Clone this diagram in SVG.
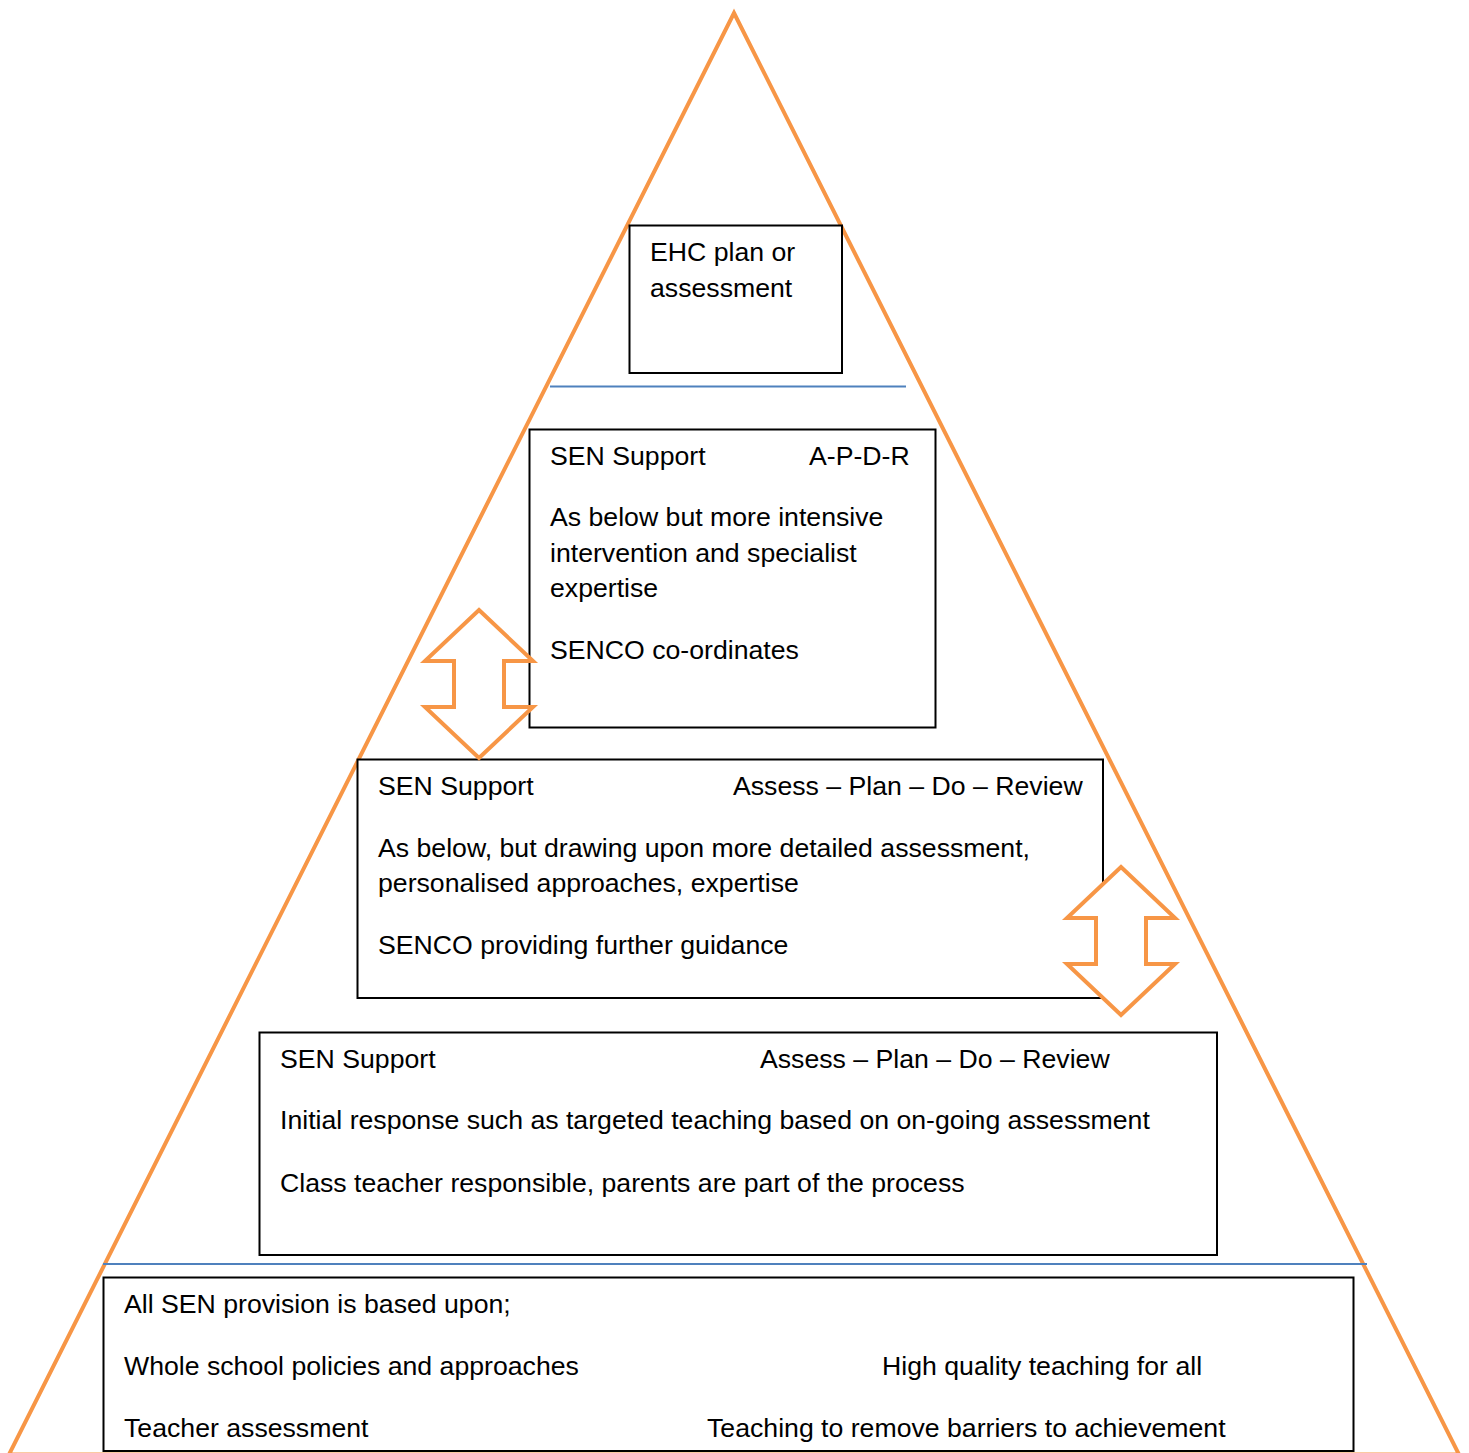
<svg xmlns="http://www.w3.org/2000/svg" width="1469" height="1453" viewBox="0 0 1469 1453">
<style>
.tri{fill:none;stroke:#F79646;stroke-width:4;stroke-linejoin:miter}
.box{fill:#fff;stroke:#000;stroke-width:2}
.sep{stroke:#4F81BD;stroke-width:2}
.arr{fill:#fff;stroke:#F79646;stroke-width:4;stroke-linejoin:miter}
text{font-family:"Liberation Sans",Arial,sans-serif;font-size:26.67px;fill:#000}
</style>
<rect width="1469" height="1453" fill="#fff"/>
<g id="pyramid">
<polygon class="tri" points="734,13 1459,1454.5 9,1454.5"/>
</g>
<g id="connectors">
<line class="sep" x1="550" y1="386.5" x2="906" y2="386.5"/>
<line class="sep" x1="103" y1="1264" x2="1367" y2="1264"/>
</g>
<g id="ehc">
<rect class="box" x="629.5" y="225.5" width="212.5" height="147.5"/>
<text x="650" y="261">EHC plan or</text>
<text x="650" y="297">assessment</text>
</g>
<g id="sen-support-3">
<rect class="box" x="529.5" y="429.5" width="406" height="298"/>
<text x="550" y="465">SEN Support</text>
<text x="809" y="465">A-P-D-R</text>
<text x="550" y="526">As below but more intensive</text>
<text x="550" y="562">intervention and specialist</text>
<text x="550" y="597">expertise</text>
<text x="550" y="659">SENCO co-ordinates</text>
</g>
<g id="sen-support-2">
<rect class="box" x="357.5" y="759.5" width="745.5" height="238.5"/>
<text x="378" y="795">SEN Support</text>
<text x="733" y="795">Assess – Plan – Do – Review</text>
<text x="378" y="857">As below, but drawing upon more detailed assessment,</text>
<text x="378" y="892">personalised approaches, expertise</text>
<text x="378" y="954">SENCO providing further guidance</text>
</g>
<g id="sen-support-1">
<rect class="box" x="259.5" y="1032.5" width="957.5" height="222.5"/>
<text x="280" y="1068">SEN Support</text>
<text x="760" y="1068">Assess – Plan – Do – Review</text>
<text x="280" y="1129">Initial response such as targeted teaching based on on-going assessment</text>
<text x="280" y="1192">Class teacher responsible, parents are part of the process</text>
</g>
<g id="foundation">
<rect class="box" x="103.5" y="1277.5" width="1250" height="173.5"/>
<text x="124" y="1313">All SEN provision is based upon;</text>
<text x="124" y="1375">Whole school policies and approaches</text>
<text x="882" y="1375">High quality teaching for all</text>
<text x="124" y="1437">Teacher assessment</text>
<text x="707" y="1437">Teaching to remove barriers to achievement</text>
</g>
<g id="arrow-left">
<path class="arr" d="M479,610 L533,661 L504,661 L504,707 L533,707 L479,758 L425,707 L454,707 L454,661 L425,661 Z"/>
</g>
<g id="arrow-right">
<path class="arr" d="M1121,867 L1175,918 L1146,918 L1146,964 L1175,964 L1121,1015 L1067,964 L1096,964 L1096,918 L1067,918 Z"/>
</g>
</svg>
